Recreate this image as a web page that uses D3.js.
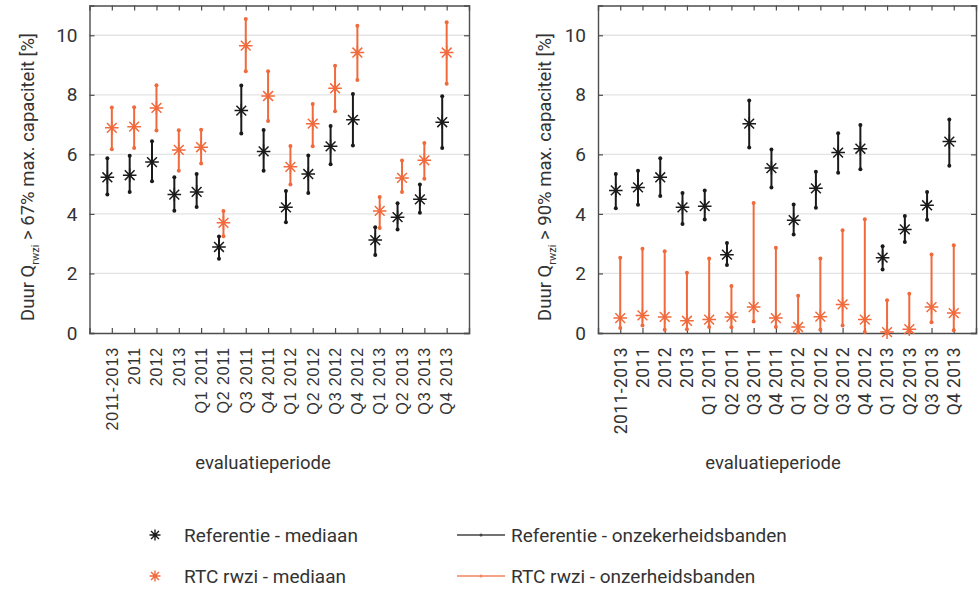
<!DOCTYPE html>
<html>
<head>
<meta charset="utf-8">
<script src="https://cdn.jsdelivr.net/npm/d3@7"></script>
<style>
  body { margin: 0; background: #fff; }
  svg { display: block; }
</style>
</head>
<body>
<svg id="chart" width="979" height="589"></svg>
<script>
// evaluation periods on the x axis
var periods = ["2011-2013", "2011", "2012", "2013",
  "Q1 2011", "Q2 2011", "Q3 2011", "Q4 2011",
  "Q1 2012", "Q2 2012", "Q3 2012", "Q4 2012",
  "Q1 2013", "Q2 2013", "Q3 2013", "Q4 2013"];

var yTicks = [0, 2, 4, 6, 8, 10];

// left panel: > 67% max. capaciteit
var ref67Median = [5.23, 5.30, 5.74, 4.65, 4.74, 2.89, 7.47, 6.10, 4.22, 5.34, 6.27, 7.16, 3.12, 3.89, 4.49, 7.08];
var ref67Low    = [4.65, 4.74, 5.10, 4.11, 4.23, 2.49, 6.70, 5.45, 3.72, 4.70, 5.67, 6.30, 2.62, 3.48, 4.04, 6.21];
var ref67High   = [5.87, 5.95, 6.44, 5.23, 5.34, 3.24, 8.31, 6.82, 4.77, 5.96, 6.95, 8.03, 3.55, 4.36, 4.99, 7.95];
var rtc67Median = [6.89, 6.93, 7.56, 6.15, 6.24, 3.70, 9.65, 7.96, 5.58, 7.03, 8.22, 9.42, 4.10, 5.21, 5.80, 9.42];
var rtc67Low    = [6.17, 6.21, 6.80, 5.45, 5.69, 3.25, 8.79, 7.12, 4.99, 6.27, 7.45, 8.50, 3.53, 4.74, 5.18, 8.37];
var rtc67High   = [7.57, 7.58, 8.32, 6.81, 6.83, 4.10, 10.55, 8.79, 6.28, 7.69, 8.98, 10.32, 4.57, 5.79, 6.38, 10.44];

// right panel: > 90% max. capaciteit
var ref90Median = [4.79, 4.89, 5.23, 4.22, 4.26, 2.63, 7.03, 5.54, 3.79, 4.86, 6.06, 6.19, 2.53, 3.48, 4.29, 6.43];
var ref90Low    = [4.19, 4.31, 4.60, 3.66, 3.81, 2.28, 6.23, 4.89, 3.31, 4.21, 5.38, 5.50, 2.13, 3.06, 3.80, 5.62];
var ref90High   = [5.34, 5.45, 5.87, 4.70, 4.79, 3.02, 7.81, 6.16, 4.32, 5.42, 6.71, 6.99, 2.91, 3.93, 4.74, 7.17];
var rtc90Median = [0.50, 0.59, 0.54, 0.41, 0.45, 0.54, 0.87, 0.50, 0.20, 0.55, 0.96, 0.45, 0.03, 0.13, 0.87, 0.67];
var rtc90Low    = [0.17, 0.25, 0.11, 0.13, 0.20, 0.19, 0.39, 0.20, 0.03, 0.11, 0.25, 0.03, 0.00, 0.03, 0.36, 0.09];
var rtc90High   = [2.53, 2.83, 2.75, 2.02, 2.50, 1.58, 4.37, 2.86, 1.25, 2.50, 3.45, 3.82, 1.10, 1.32, 2.64, 2.95];

var black = "#1a1a1a";
var orange = "#f06a3c";
var textColor = "#333";
var svg = d3.select("#chart");

// asterisk like the matlab '*' marker
function asterisk(r) {
  var d = r * 0.72;
  return "M" + (-r) + ",0L" + r + ",0M0," + (-r) + "L0," + r +
    "M" + (-d) + "," + (-d) + "L" + d + "," + d +
    "M" + (-d) + "," + d + "L" + d + "," + (-d);
}

function drawSeries(g, x, y, offset, median, low, high, color) {
  var idx = d3.range(median.length);
  g.selectAll(null).data(idx).enter().append("line")
    .attr("x1", i => x(i + 1 + offset)).attr("x2", i => x(i + 1 + offset))
    .attr("y1", i => y(low[i])).attr("y2", i => y(high[i]))
    .attr("stroke", color).attr("stroke-width", 2);
  g.selectAll(null).data(idx.concat(idx)).enter().append("circle")
    .attr("cx", (i) => x(i + 1 + offset))
    .attr("cy", (i, k) => y(k < idx.length ? low[i] : high[i]))
    .attr("r", 2).attr("fill", color);
  g.selectAll(null).data(idx).enter().append("path")
    .attr("d", asterisk(6.8))
    .attr("transform", i => "translate(" + x(i + 1 + offset) + "," + y(median[i]) + ")")
    .attr("stroke", color).attr("stroke-width", 1.5).attr("fill", "none");
}

function drawPanel(opt) {
  var x = d3.scaleLinear().domain([0, 17]).range([opt.left, opt.right]);
  var y = d3.scaleLinear().domain([0, 11]).range([333, 5.5]);
  var g = svg.append("g");

  // grid
  g.selectAll(null).data(yTicks.filter(t => t > 0)).enter().append("line")
    .attr("x1", opt.left).attr("x2", opt.right)
    .attr("y1", d => y(d)).attr("y2", d => y(d))
    .attr("stroke", "#e3e3e3").attr("stroke-width", 1.3);

  // y axes left + right, ticks inward
  var yl = g.append("g").attr("transform", "translate(" + opt.left + ",0)")
    .call(d3.axisLeft(y).tickValues(yTicks).tickSize(-5).tickPadding(12));
  var yr = g.append("g").attr("transform", "translate(" + opt.right + ",0)")
    .call(d3.axisRight(y).tickValues(yTicks).tickSize(-5).tickFormat(""));
  // x axes bottom + top
  var xb = g.append("g").attr("transform", "translate(0,333)")
    .call(d3.axisBottom(x).tickValues(d3.range(1, 17)).tickSize(-5).tickFormat(""));
  var xt = g.append("g").attr("transform", "translate(0,5.5)")
    .call(d3.axisTop(x).tickValues(d3.range(1, 17)).tickSize(-5).tickFormat(""));
  [yl, yr, xb, xt].forEach(a => {
    a.select(".domain").attr("stroke", "#4d4d4d").attr("stroke-width", 1.4);
    a.selectAll(".tick line").attr("stroke", "#4d4d4d").attr("stroke-width", 1.2);
  });
  yl.selectAll(".tick text").attr("font-family", "Roboto").attr("font-size", 19)
    .attr("fill", textColor);

  // rotated category labels
  g.selectAll(null).data(periods).enter().append("text")
    .attr("transform", (d, i) => "translate(" + x(i + 1) + ",347) rotate(-90)")
    .attr("dy", "0.36em")
    .attr("text-anchor", "end")
    .attr("font-family", opt.catFont).attr("font-size", opt.catSize)
    .attr("letter-spacing", opt.catSpacing)
    .attr("fill", textColor)
    .text(d => d);

  // y label with subscript
  var yt = g.append("text")
    .attr("transform", "translate(" + opt.ylabelX + ",177) rotate(-90)")
    .attr("text-anchor", "middle")
    .attr("font-family", "Roboto").attr("font-size", 18.5).attr("fill", textColor);
  yt.append("tspan").text("Duur Q");
  yt.append("tspan").attr("font-size", 11).attr("dy", 5).text("rwzi");
  yt.append("tspan").attr("dy", -5).text(" > " + opt.pct + " max. capaciteit [%]");

  g.append("text")
    .attr("x", opt.xlabelX).attr("y", 469)
    .attr("text-anchor", "middle")
    .attr("font-family", "Roboto").attr("font-size", 18.5).attr("fill", textColor)
    .text("evaluatieperiode");

  drawSeries(g, x, y, -0.2, opt.refMed, opt.refLow, opt.refHigh, black);
  drawSeries(g, x, y, 0, opt.rtcMed, opt.rtcLow, opt.rtcHigh, orange);
}

drawPanel({left: 89.5, right: 469, ylabelX: 34, xlabelX: 263, pct: "67%",
  catFont: "Liberation Sans", catSize: 16, catSpacing: 0.9,
  refMed: ref67Median, refLow: ref67Low, refHigh: ref67High,
  rtcMed: rtc67Median, rtcLow: rtc67Low, rtcHigh: rtc67High});

drawPanel({left: 598, right: 976, ylabelX: 551, xlabelX: 773, pct: "90%",
  catFont: "Roboto", catSize: 17.5, catSpacing: 0.4,
  refMed: ref90Median, refLow: ref90Low, refHigh: ref90High,
  rtcMed: rtc90Median, rtcLow: rtc90Low, rtcHigh: rtc90High});

// legend
var legendItems = [
  {label: "Referentie - mediaan", color: black, type: "marker", x: 155, y: 535},
  {label: "RTC rwzi - mediaan", color: orange, type: "marker", x: 155, y: 576},
  {label: "Referentie - onzekerheidsbanden", color: "#444", type: "line", x: 457, y: 535},
  {label: "RTC rwzi - onzerheidsbanden", color: "#f2845e", type: "line", x: 457, y: 576}
];
var lg = svg.append("g");
legendItems.forEach(item => {
  if (item.type == "marker") {
    lg.append("path").attr("d", asterisk(5.5))
      .attr("transform", "translate(" + item.x + "," + item.y + ")")
      .attr("stroke", item.color).attr("stroke-width", 1.4).attr("fill", "none");
    lg.append("text").attr("x", 184).attr("y", item.y).attr("dy", "0.35em")
      .attr("font-family", "Roboto").attr("font-size", 19).attr("fill", textColor)
      .text(item.label);
  } else {
    lg.append("line").attr("x1", item.x).attr("x2", item.x + 48)
      .attr("y1", item.y).attr("y2", item.y)
      .attr("stroke", item.color).attr("stroke-width", 1.6);
    lg.append("circle").attr("cx", item.x + 24).attr("cy", item.y).attr("r", 1.5)
      .attr("fill", item.color);
    lg.append("text").attr("x", 511).attr("y", item.y).attr("dy", "0.35em")
      .attr("font-family", "Roboto").attr("font-size", 19).attr("fill", textColor)
      .text(item.label);
  }
});
</script>
</body>
</html>
